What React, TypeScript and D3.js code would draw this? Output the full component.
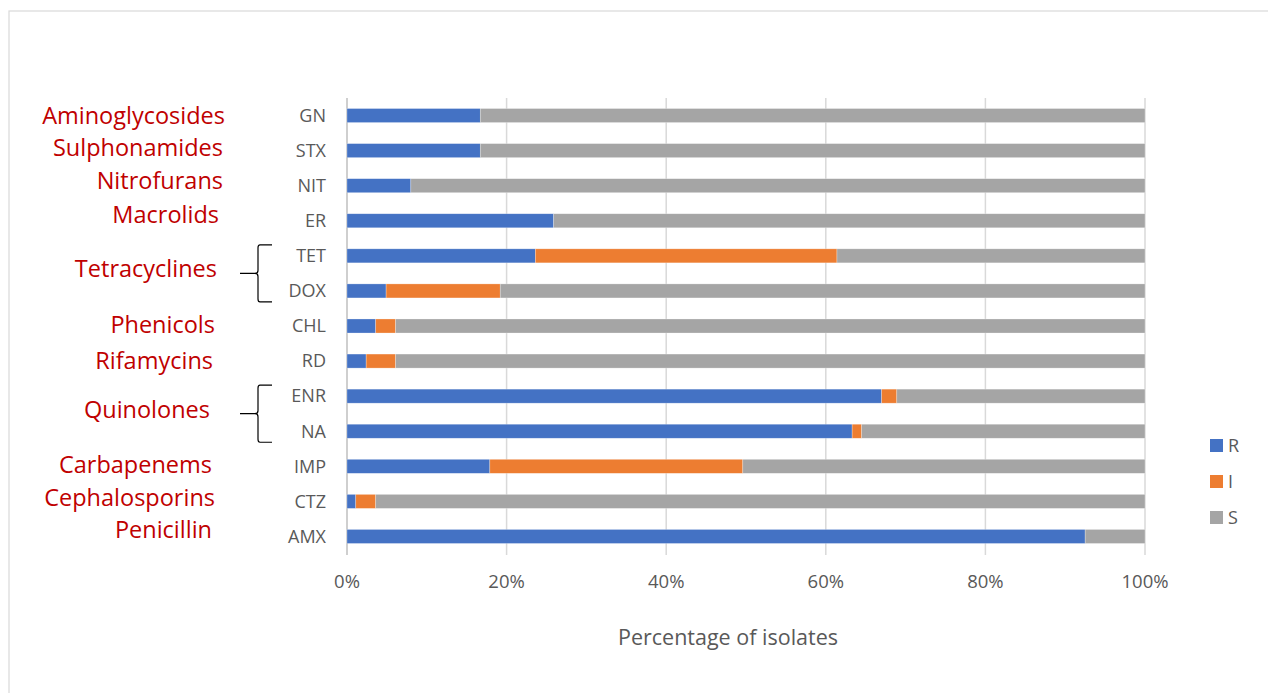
import React from "react";
import * as d3 from "d3";

// Antibiotics, top to bottom
const drugs = ["GN", "STX", "NIT", "ER", "TET", "DOX", "CHL", "RD", "ENR", "NA", "IMP", "CTZ", "AMX"];
// Percent of isolates per interpretation category
const resistant = [16.7, 16.7, 8.0, 25.9, 23.6, 4.9, 3.6, 2.4, 67.0, 63.3, 17.9, 1.1, 92.5];
const intermediate = [0, 0, 0, 0, 37.8, 14.3, 2.5, 3.7, 1.9, 1.2, 31.7, 2.5, 0];
const susceptible = [83.3, 83.3, 92.0, 74.1, 38.6, 80.8, 93.9, 93.9, 31.1, 35.5, 50.4, 96.4, 7.5];

const seriesNames = ["R", "I", "S"];
const seriesColors = ["#4472C4", "#ED7D31", "#A5A5A5"];
const xTicks = [0, 20, 40, 60, 80, 100];

// Antibiotic classes and the drugs they group
const classNames = [
  "Aminoglycosides", "Sulphonamides", "Nitrofurans", "Macrolids", "Tetracyclines",
  "Phenicols", "Rifamycins", "Quinolones", "Carbapenems", "Cephalosporins", "Penicillin",
];
const classMembers = [
  ["GN"], ["STX"], ["NIT"], ["ER"], ["TET", "DOX"],
  ["CHL"], ["RD"], ["ENR", "NA"], ["IMP"], ["CTZ"], ["AMX"],
];
// label placement: right edge x and vertical nudge
const classLabelRight = [225, 223, 223, 219, 217, 215, 213, 210, 212, 215, 212];
const classLabelNudge = [0, -3, -5, -6, -5, -1, 0, -4, -2, -4, -7];

const W = 1268;
const H = 693;
const FONT = "'Open Sans', Lato, sans-serif";

export default function App() {
  const x = d3.scaleLinear().domain([0, 100]).range([347, 1145]);
  const y = d3.scaleBand<string>().domain(drugs).range([98, 554]).paddingInner(0.6).paddingOuter(0.3);

  const rows = drugs.map((d, i) => ({ drug: d, R: resistant[i], I: intermediate[i], S: susceptible[i] }));
  const stack = d3.stack<any>().keys(seriesNames)(rows);

  const bw = y.bandwidth();
  const center = (d: string) => (y(d) as number) + bw / 2;

  const braces = classMembers
    .map((m, i) => ({ m, i }))
    .filter((c) => c.m.length > 1);

  return (
    <svg width={W} height={H} style={{ position: "absolute", left: 0, top: 0, background: "#fff" }}>
      {/* chart frame */}
      <rect x={9} y={11} width={W + 10} height={H + 10} fill="#fff" stroke="#d9d9d9" strokeWidth={1.2} />

      {/* vertical gridlines */}
      {xTicks.map((t) => (
        <line key={t} x1={x(t)} x2={x(t)} y1={98} y2={555}
          stroke={t === 0 ? "#bfbfbf" : "#d9d9d9"} strokeWidth={1.5} />
      ))}

      {/* stacked bars */}
      {stack.map((s, si) => (
        <g key={s.key} fill={seriesColors[si]}>
          {s.map((seg: any, j: number) => {
            const w = x(seg[1]) - x(seg[0]);
            if (w <= 0) return null;
            return (
              <rect key={j} x={x(seg[0])} y={y(drugs[j])} width={w} height={bw}
                stroke="#ffffff" strokeOpacity={0.45} strokeWidth={0.6} />
            );
          })}
        </g>
      ))}

      {/* category labels */}
      {drugs.map((d) => (
        <text key={d} x={326} y={center(d)} dy="0.35em" textAnchor="end"
          fontFamily={FONT} fontSize={18} fill="#595959">{d}</text>
      ))}

      {/* x tick labels */}
      {xTicks.map((t) => (
        <text key={t} x={x(t)} y={582} dy="0.35em" textAnchor="middle"
          fontFamily={FONT} fontSize={18.5} fill="#595959">{t}%</text>
      ))}

      {/* x axis title */}
      <text x={728} y={637} dy="0.35em" textAnchor="middle" fontFamily={FONT} fontSize={21.5} fill="#595959">
        Percentage of isolates
      </text>

      {/* antibiotic class labels */}
      {classNames.map((c, i) => {
        const ys = classMembers[i].map(center);
        const cy = d3.mean(ys) as number;
        return (
          <text key={c} x={classLabelRight[i]} y={cy + classLabelNudge[i]} dy="0.35em" textAnchor="end"
            fontFamily={FONT} fontSize={23.5} fill="#C00000">{c}</text>
        );
      })}

      {/* braces grouping multi-drug classes */}
      {braces.map(({ m, i }) => {
        const top = center(m[0]) - 11;
        const bot = center(m[m.length - 1]) + 11;
        const mid = (top + bot) / 2;
        const xv = 258;
        const path = `M ${xv + 14} ${top} L ${xv + 2} ${top} Q ${xv} ${top} ${xv} ${top + 3} L ${xv} ${mid - 3} Q ${xv} ${mid} ${xv - 3} ${mid} L ${xv - 18} ${mid} M ${xv - 3} ${mid} Q ${xv} ${mid} ${xv} ${mid + 3} L ${xv} ${bot - 3} Q ${xv} ${bot} ${xv + 2} ${bot} L ${xv + 14} ${bot}`;
        return <path key={i} d={path} fill="none" stroke="#000" strokeWidth={1.2} />;
      })}

      {/* legend */}
      {seriesNames.map((n, i) => (
        <g key={n} transform={`translate(1210, ${439 + i * 36})`}>
          <rect width={13} height={13} fill={seriesColors[i]} />
          <text x={18} y={6.5} dy="0.35em" fontFamily={FONT} fontSize={18} fill="#595959">{n}</text>
        </g>
      ))}
    </svg>
  );
}
